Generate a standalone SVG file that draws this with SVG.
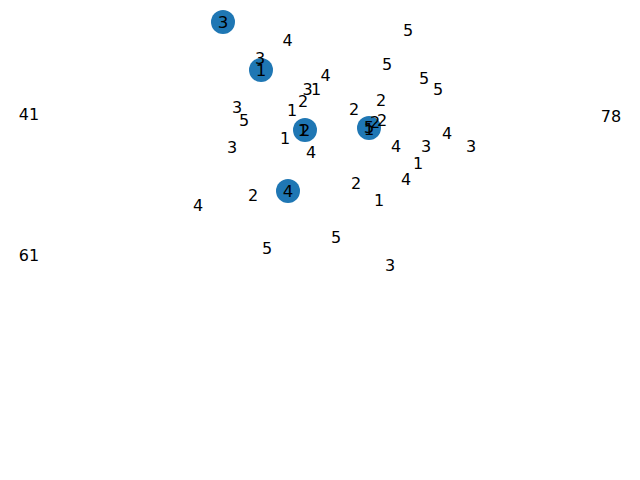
<svg xmlns="http://www.w3.org/2000/svg" width="640" height="480" viewBox="0 0 640 480">
<style>
.n{fill:#1f77b4}
.nl{font-family:"DejaVu Sans",sans-serif;font-size:16.67px;fill:#000;text-anchor:middle;dominant-baseline:central}
.el{font-family:"DejaVu Sans",sans-serif;font-size:16px;fill:#000;text-anchor:middle;dominant-baseline:central}
</style>
<rect width="640" height="480" fill="#fff"/>
<g id="nodes">
<g id="node-3"><circle class="n" cx="223" cy="22" r="12"/><text class="nl" x="223" y="22">3</text></g>
<g id="node-1"><circle class="n" cx="261" cy="70" r="12"/><text class="nl" x="261" y="70">1</text></g>
<g id="node-12"><circle class="n" cx="305" cy="130" r="12"/><text class="nl" x="303" y="130">1</text><text class="nl" x="305" y="130">2</text></g>
<g id="node-51"><circle class="n" cx="369" cy="128" r="12"/><text class="nl" x="369" y="127">5</text><text class="nl" x="369" y="129">1</text></g>
<g id="node-4"><circle class="n" cx="288" cy="191" r="12"/><text class="nl" x="288" y="191">4</text></g>
</g>
<g id="edge-labels">
<text class="el" x="287.5" y="40">4</text>
<text class="el" x="408" y="30">5</text>
<text class="el" x="260" y="58.5">3</text>
<text class="el" x="387" y="64.5">5</text>
<text class="el" x="325.5" y="75">4</text>
<text class="el" x="424" y="78">5</text>
<text class="el" x="307.5" y="89">3</text>
<text class="el" x="316" y="89">1</text>
<text class="el" x="438" y="89.5">5</text>
<text class="el" x="303" y="101">2</text>
<text class="el" x="381" y="100">2</text>
<text class="el" x="237" y="107">3</text>
<text class="el" x="292" y="110">1</text>
<text class="el" x="354" y="109.5">2</text>
<text class="el" x="29" y="114">41</text>
<text class="el" x="611" y="116">78</text>
<text class="el" x="244" y="120">5</text>
<text class="el" x="375" y="122">2</text>
<text class="el" x="382" y="120.5">2</text>
<text class="el" x="285" y="138.5">1</text>
<text class="el" x="396" y="146">4</text>
<text class="el" x="426" y="146.5">3</text>
<text class="el" x="447" y="133">4</text>
<text class="el" x="471" y="146">3</text>
<text class="el" x="232" y="147">3</text>
<text class="el" x="311" y="152">4</text>
<text class="el" x="418" y="163">1</text>
<text class="el" x="406" y="179">4</text>
<text class="el" x="356" y="183">2</text>
<text class="el" x="253" y="195">2</text>
<text class="el" x="379" y="200">1</text>
<text class="el" x="198" y="205">4</text>
<text class="el" x="336" y="237">5</text>
<text class="el" x="267" y="248.5">5</text>
<text class="el" x="390" y="265">3</text>
<text class="el" x="29" y="255">61</text>
</g>
</svg>
